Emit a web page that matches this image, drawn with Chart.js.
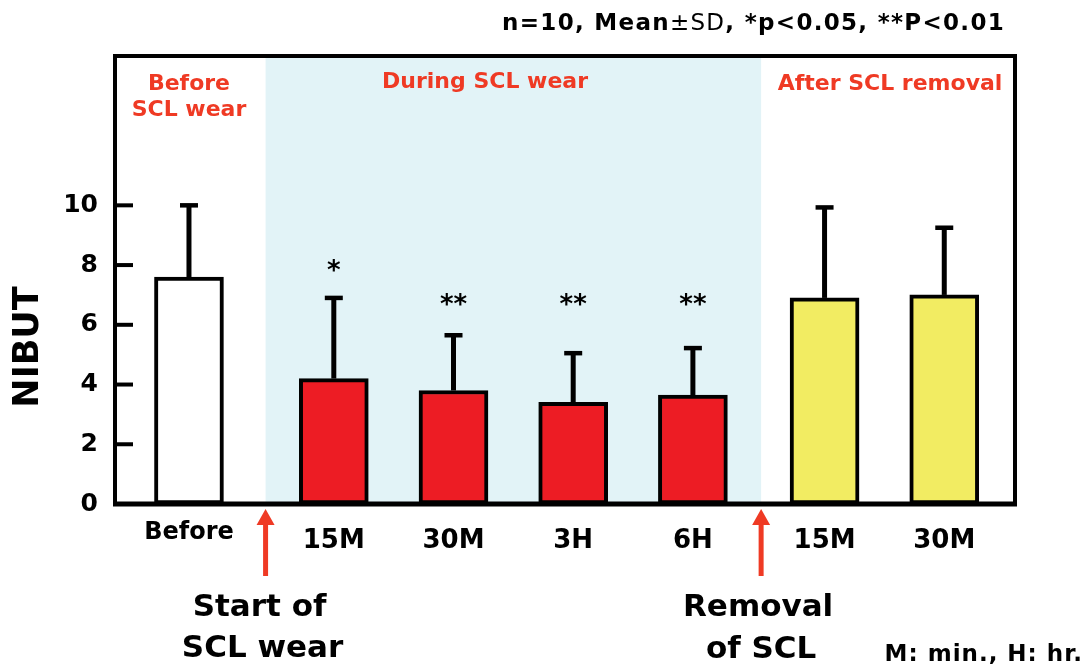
<!DOCTYPE html>
<html><head><meta charset="utf-8">
<script src="https://cdn.jsdelivr.net/npm/chart.js@4.4.1/dist/chart.umd.min.js"></script>
<style>html,body{margin:0;padding:0;background:#fff;overflow:hidden}</style>
</head><body>
<canvas id="c" width="1090" height="667"></canvas>
<script>
// ---- data ----
const categories = ['Before', '15M', '30M', '3H', '6H', '15M', '30M'];
const timePositions = [0, 1.21, 2.21, 3.21, 4.21, 5.31, 6.31];
const means = [7.6, 4.2, 3.8, 3.4, 3.65, 6.9, 7.0];
const sds = [2.4, 2.7, 1.85, 1.65, 1.57, 3.03, 2.25];
const groups = ['before', 'during', 'during', 'during', 'during', 'after', 'after'];
const sigMarks = ['', '*', '**', '**', '**', '', ''];
const sigHeights = [null, 8.0, 6.85, 6.85, 6.85, null, null];
const yTickValues = [0, 2, 4, 6, 8, 10];
const wearStart = 0.64;
const wearEnd = 4.78;
const phaseLabels = [['Before', 'SCL wear'], ['During SCL wear'], ['After SCL removal']];
const note = ['n=10, Mean', '±SD', ', *p<0.05, **P<0.01'];

const groupColors = { before: '#ffffff', during: '#ed1c24', after: '#f2ec62' };
const RED = '#ef3a24';
const FONT = 'DejaVu Sans';

function centerText(ctx, txt, x, cy) {
  const m = ctx.measureText(txt);
  ctx.textBaseline = 'alphabetic';
  ctx.fillText(txt, x, cy + (m.actualBoundingBoxAscent - m.actualBoundingBoxDescent) / 2);
}

const decor = {
  id: 'decor',
  beforeDatasetsDraw(chart) {
    const { ctx, chartArea: a, scales: { x } } = chart;
    ctx.save();
    ctx.fillStyle = '#e2f3f7';
    const x0 = x.getPixelForValue(wearStart), x1 = x.getPixelForValue(wearEnd);
    ctx.fillRect(x0, a.top, x1 - x0, a.bottom - a.top);
    ctx.restore();
  },
  afterDatasetsDraw(chart) {
    const { ctx, chartArea: a, scales: { x, y } } = chart;
    const meta = chart.getDatasetMeta(0);
    ctx.save();
    ctx.strokeStyle = '#000';
    ctx.lineCap = 'butt';
    meta.data.forEach((el, i) => {
      const top = y.getPixelForValue(means[i] + sds[i]);
      ctx.lineWidth = 5;
      ctx.beginPath();
      ctx.moveTo(el.x, el.y);
      ctx.lineTo(el.x, top);
      ctx.stroke();
      ctx.lineWidth = 4.5;
      ctx.beginPath();
      ctx.moveTo(el.x - 9, top);
      ctx.lineTo(el.x + 9, top);
      ctx.stroke();
      if (sigMarks[i]) {
        ctx.fillStyle = '#000';
        ctx.font = `bold 26px "${FONT}"`;
        ctx.textAlign = 'center';
        centerText(ctx, sigMarks[i], el.x, y.getPixelForValue(sigHeights[i]));
      }
    });
    // frame
    ctx.lineWidth = 4;
    ctx.strokeRect(a.left, a.top, a.right - a.left, a.bottom - a.top);
    ctx.lineWidth = 5;
    ctx.beginPath();
    ctx.moveTo(a.left - 2, a.bottom);
    ctx.lineTo(a.right + 2, a.bottom);
    ctx.stroke();
    // inward ticks
    ctx.lineWidth = 4;
    y.ticks.forEach(t => {
      if (t.value === 0) return;
      const py = y.getPixelForValue(t.value);
      ctx.beginPath();
      ctx.moveTo(a.left, py);
      ctx.lineTo(a.left + 18, py);
      ctx.stroke();
    });
    ctx.restore();
  },
  afterDraw(chart) {
    const { ctx, scales: { x } } = chart;
    ctx.save();
    // phase labels
    ctx.fillStyle = RED;
    ctx.font = `bold 22px "${FONT}"`;
    ctx.textAlign = 'center';
    const bx = x.getPixelForValue(timePositions[0]);
    centerText(ctx, phaseLabels[0][0], bx, 82);
    centerText(ctx, phaseLabels[0][1], bx, 108);
    centerText(ctx, phaseLabels[1][0], 485, 82);
    centerText(ctx, phaseLabels[2][0], 890, 82);
    // arrows
    ctx.strokeStyle = RED;
    ctx.lineWidth = 5;
    [wearStart, wearEnd].forEach(v => {
      const px = x.getPixelForValue(v);
      ctx.beginPath();
      ctx.moveTo(px, 576);
      ctx.lineTo(px, 522);
      ctx.stroke();
      ctx.beginPath();
      ctx.moveTo(px, 509);
      ctx.lineTo(px + 9, 525);
      ctx.lineTo(px - 9, 525);
      ctx.closePath();
      ctx.fill();
    });
    // captions under arrows
    ctx.fillStyle = '#000';
    ctx.font = `bold 31px "${FONT}"`;
    const s = x.getPixelForValue(wearStart), e = x.getPixelForValue(wearEnd);
    centerText(ctx, 'Start of', s - 6, 604);
    centerText(ctx, 'SCL wear', s - 3, 646);
    centerText(ctx, 'Removal', e - 3, 604);
    centerText(ctx, 'of SCL', e, 646);
    // footnote
    ctx.font = `bold 23px "${FONT}"`;
    ctx.letterSpacing = '1px';
    ctx.textAlign = 'right';
    centerText(ctx, 'M: min., H: hr.', 1083, 653);
    // top note
    ctx.textAlign = 'left';
    ctx.letterSpacing = '1.3px';
    const fB = `bold 23px "${FONT}"`, fN = `23px "${FONT}"`;
    const widths = note.map((t, i) => { ctx.font = i === 1 ? fN : fB; return ctx.measureText(t).width; });
    let cx = 1005 - widths.reduce((p, c) => p + c, 0);
    note.forEach((t, i) => {
      ctx.font = i === 1 ? fN : fB;
      ctx.textBaseline = 'alphabetic';
      ctx.fillText(t, cx, 30);
      cx += widths[i];
    });
    ctx.letterSpacing = '0px';
    // y title
    ctx.translate(25, 347);
    ctx.rotate(-Math.PI / 2);
    ctx.textAlign = 'center';
    ctx.font = `bold 35px "${FONT}"`;
    centerText(ctx, 'NIBUT', 0, 0);
    ctx.restore();
  }
};

new Chart(document.getElementById('c'), {
  type: 'bar',
  data: {
    datasets: [{
      data: timePositions.map((v, i) => ({ x: v, y: means[i] })),
      backgroundColor: groups.map(g => groupColors[g]),
      borderColor: '#000',
      borderWidth: 4,
      borderSkipped: false,
      barThickness: 69
    }]
  },
  options: {
    responsive: false,
    animation: false,
    devicePixelRatio: 1,
    layout: { padding: { left: 0, top: 56, right: 75, bottom: 0 } },
    plugins: { legend: { display: false }, tooltip: { enabled: false }, title: { display: false } },
    scales: {
      x: {
        type: 'linear',
        min: -0.618,
        max: 6.901,
        offset: false,
        grid: { display: false, drawTicks: false, offset: false },
        border: { display: false },
        afterBuildTicks: s => { s.ticks = timePositions.map(v => ({ value: v })); },
        afterFit: s => { s.height = 667 - 504; },
        ticks: {
          autoSkip: false, maxRotation: 0, minRotation: 0, padding: 22, color: '#000',
          callback: (v, i) => categories[i],
          font: c => c.index === 0
            ? { family: FONT, weight: 'bold', size: 24, lineHeight: '14px' }
            : { family: FONT, weight: 'bold', size: 26, lineHeight: 1.2 }
        }
      },
      y: {
        min: 0,
        max: 15,
        grid: { display: false, drawTicks: false },
        border: { display: false },
        afterBuildTicks: s => { s.ticks = yTickValues.map(v => ({ value: v })); },
        afterFit: s => { s.width = 115; },
        ticks: { padding: 17, color: '#000', font: { family: FONT, weight: 'bold', size: 25 } }
      }
    }
  },
  plugins: [decor]
});
</script>
</body></html>
